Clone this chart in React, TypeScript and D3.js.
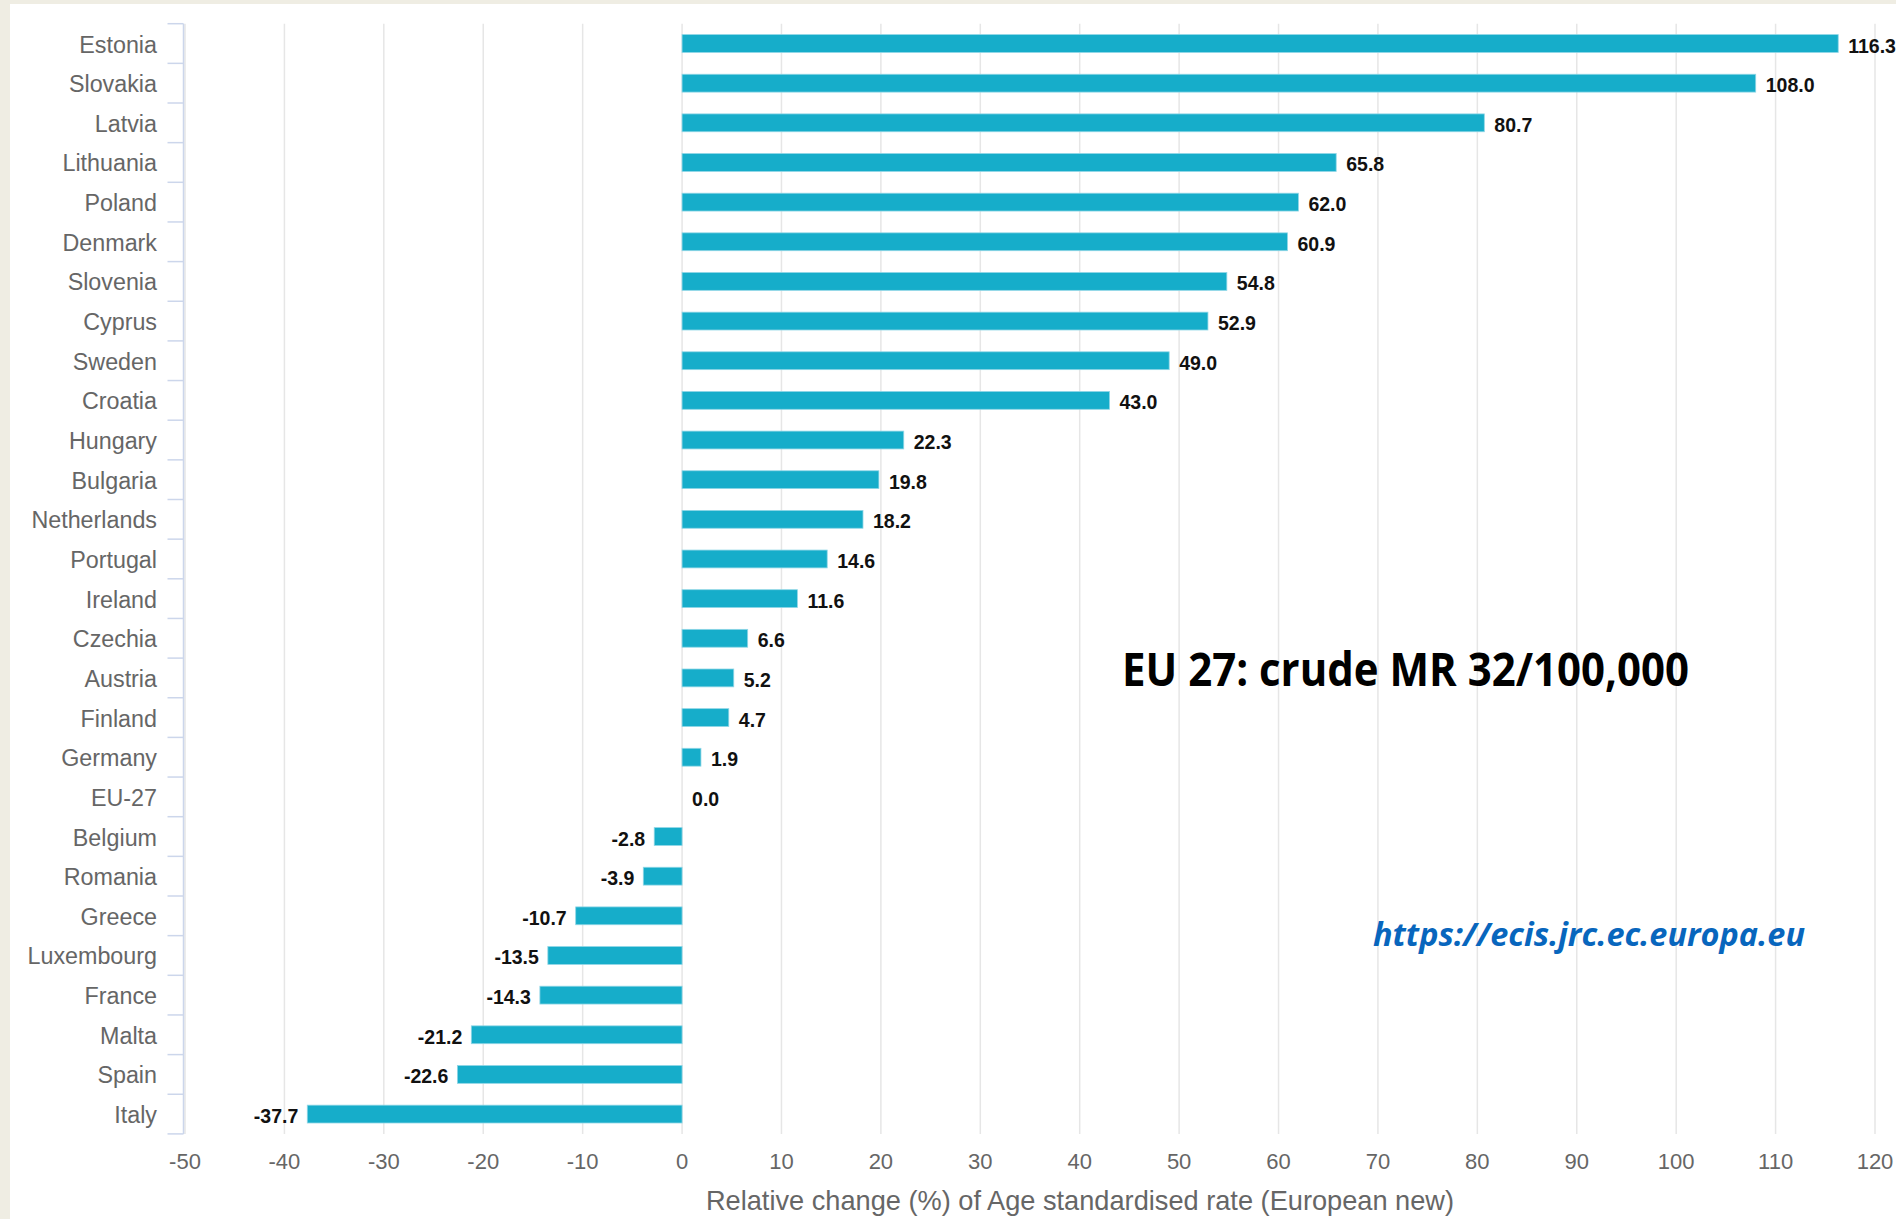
import * as d3 from "d3";

// categories, top to bottom
const countries = [
  "Estonia", "Slovakia", "Latvia", "Lithuania", "Poland", "Denmark", "Slovenia",
  "Cyprus", "Sweden", "Croatia", "Hungary", "Bulgaria", "Netherlands", "Portugal",
  "Ireland", "Czechia", "Austria", "Finland", "Germany", "EU-27", "Belgium",
  "Romania", "Greece", "Luxembourg", "France", "Malta", "Spain", "Italy",
];

// relative change (%) of age standardised rate
const changes = [
  116.3, 108.0, 80.7, 65.8, 62.0, 60.9, 54.8,
  52.9, 49.0, 43.0, 22.3, 19.8, 18.2, 14.6,
  11.6, 6.6, 5.2, 4.7, 1.9, 0.0, -2.8,
  -3.9, -10.7, -13.5, -14.3, -21.2, -22.6, -37.7,
];

const xTicks = [-50, -40, -30, -20, -10, 0, 10, 20, 30, 40, 50, 60, 70, 80, 90, 100, 110, 120];

const axisTitle = "Relative change (%) of Age standardised rate (European new)";
const noteText = "EU 27: crude MR 32/100,000";
const urlText = "https://ecis.jrc.ec.europa.eu";

const W = 1896;
const H = 1219;
const top = 23.7;
const bottom = 1133.9;
const axisX = 183.5;
const left = 185;
const right = 1875;

const font = "'Liberation Sans', Arial, Helvetica, sans-serif";

export default function App() {
  const x = d3.scaleLinear().domain([-50, 120]).range([left, right]);
  const y = d3
    .scaleBand<string>()
    .domain(countries)
    .range([top, bottom])
    .paddingInner(0.55)
    .paddingOuter(0.275);
  const step = y.step();
  const bounds = d3.range(countries.length + 1).map((i) => top + i * step);

  return (
    <svg
      width={W}
      height={H}
      style={{ position: "absolute", left: 0, top: 0, display: "block" }}
    >
      <rect x={0} y={0} width={W} height={H} fill="#efede3" />
      <rect x={10} y={4} width={W - 10} height={H - 4} fill="#ffffff" />

      {/* vertical grid */}
      {xTicks.map((t) => (
        <line
          key={"g" + t}
          x1={x(t)}
          x2={x(t)}
          y1={top}
          y2={bottom}
          stroke="#e6e6e6"
          strokeWidth={1.5}
        />
      ))}

      {/* category axis */}
      <line x1={axisX} x2={axisX} y1={top} y2={bottom} stroke="#ccd6eb" strokeWidth={1.5} />
      {bounds.map((b, i) => (
        <line key={"t" + i} x1={axisX - 16} x2={axisX} y1={b} y2={b} stroke="#ccd6eb" strokeWidth={1.5} />
      ))}
      {countries.map((c) => (
        <text
          key={"l" + c}
          x={157}
          y={(y(c) as number) + y.bandwidth() / 2 + 1}
          textAnchor="end"
          dominantBaseline="central"
          fontFamily={font}
          fontSize={23.3}
          fill="#666666"
        >
          {c}
        </text>
      ))}

      {/* bars */}
      {countries.map((c, i) => {
        const v = changes[i];
        if (v === 0) return null;
        return (
          <rect
            key={"b" + c}
            x={x(Math.min(0, v))}
            y={y(c)}
            width={Math.abs(x(v) - x(0))}
            height={y.bandwidth()}
            fill="#16adca"
            stroke="#8fd6e6"
            strokeWidth={0.8}
          />
        );
      })}

      {/* value labels */}
      {countries.map((c, i) => {
        const v = changes[i];
        const neg = v < 0;
        return (
          <text
            key={"v" + c}
            x={neg ? x(v) - 9 : x(v) + 10}
            y={(y(c) as number) + y.bandwidth() / 2 + 2}
            textAnchor={neg ? "end" : "start"}
            dominantBaseline="central"
            fontFamily={font}
            fontWeight="bold"
            fontSize={19.5}
            fill="#111111"
          >
            {v.toFixed(1)}
          </text>
        );
      })}

      {/* value axis labels */}
      {xTicks.map((t) => (
        <text
          key={"x" + t}
          x={x(t)}
          y={1169}
          textAnchor="middle"
          fontFamily={font}
          fontSize={22}
          fill="#666666"
        >
          {String(t)}
        </text>
      ))}
      <text
        x={1080}
        y={1210}
        textAnchor="middle"
        fontFamily={font}
        fontSize={27.2}
        fill="#666666"
      >
        {axisTitle}
      </text>

      {/* annotations */}
      <text
        x={1122}
        y={686}
        fontFamily="'Open Sans', 'Noto Sans', sans-serif"
        fontWeight="bold"
        fontSize={46}
        fill="#000000"
        textLength={567}
        lengthAdjust="spacingAndGlyphs"
      >
        {noteText}
      </text>
      <text
        x={1373}
        y={946}
        fontFamily="'Open Sans', 'Noto Sans', sans-serif"
        fontWeight="bold"
        fontStyle="italic"
        fontSize={33}
        fill="#0866bd"
        textLength={432}
        lengthAdjust="spacingAndGlyphs"
      >
        {urlText}
      </text>
    </svg>
  );
}
